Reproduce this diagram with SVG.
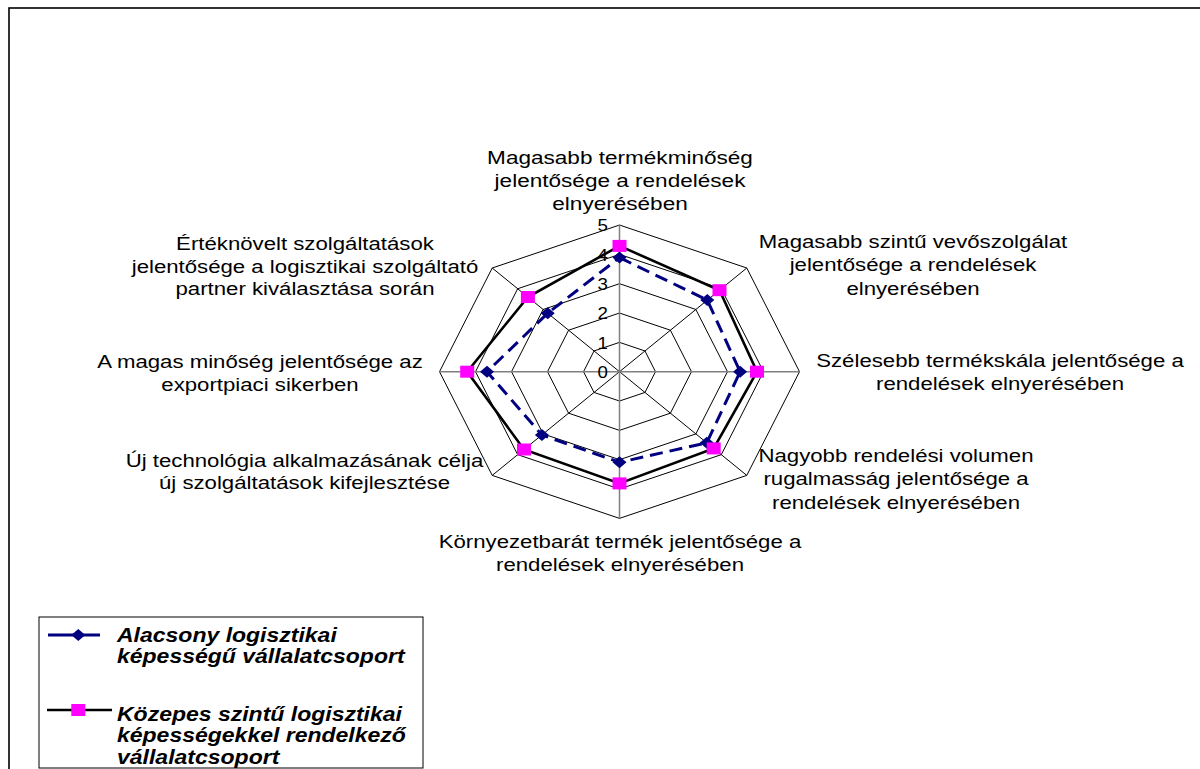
<svg xmlns="http://www.w3.org/2000/svg" width="1200" height="769" viewBox="0 0 1200 769">
<style>
.lbl{font-family:"Liberation Sans",Arial,sans-serif;font-size:18.5px;fill:#000;text-anchor:middle}
.num{font-family:"Liberation Sans",Arial,sans-serif;font-size:17px;fill:#000;text-anchor:end}
.leg{font-family:"Liberation Sans",Arial,sans-serif;font-size:20px;font-weight:bold;font-style:italic;fill:#000}
.ring{fill:none;stroke:#000;stroke-width:1}
.spoke{stroke:#000;stroke-width:1}
.axis{stroke:#808080;stroke-width:1.5}
.s1{fill:none;stroke:#000080;stroke-width:3;stroke-dasharray:13 7}
.s2{fill:none;stroke:#000;stroke-width:2.6}
.dia{fill:#000080}
.sq{fill:#ff00ff}
</style>
<defs>
<polygon id="dm" class="dia" points="0,-6 7,0 0,6 -7,0"/>
<rect id="sm" class="sq" x="-7" y="-6" width="14" height="12"/>
</defs>
<rect x="0" y="0" width="1200" height="769" fill="#fff"/>
<rect x="9" y="8" width="1220" height="800" fill="none" stroke="#000" stroke-width="1.6"/>

<g id="grid" transform="translate(619.5,371.7)">
<polygon class="ring" points="0,-29.33 25.46,-20.74 36,0 25.46,20.74 0,29.33 -25.46,20.74 -36,0 -25.46,-20.74"/>
<polygon class="ring" points="0,-58.67 50.91,-41.48 72,0 50.91,41.48 0,58.67 -50.91,41.48 -72,0 -50.91,-41.48"/>
<polygon class="ring" points="0,-88 76.37,-62.22 108,0 76.37,62.22 0,88 -76.37,62.22 -108,0 -76.37,-62.22"/>
<polygon class="ring" points="0,-117.33 101.82,-82.96 144,0 101.82,82.96 0,117.33 -101.82,82.96 -144,0 -101.82,-82.96"/>
<polygon class="ring" points="0,-146.67 127.28,-103.7 180,0 127.28,103.7 0,146.67 -127.28,103.7 -180,0 -127.28,-103.7"/>
<line class="spoke" x1="0" y1="0" x2="127.28" y2="-103.7"/>
<line class="spoke" x1="0" y1="0" x2="127.28" y2="103.7"/>
<line class="spoke" x1="0" y1="0" x2="-127.28" y2="103.7"/>
<line class="spoke" x1="0" y1="0" x2="-127.28" y2="-103.7"/>
<line class="axis" x1="0" y1="-146.67" x2="0" y2="146.67"/>
<line class="axis" x1="-180" y1="0" x2="180" y2="0"/>
</g>

<g id="axis-labels">
<text class="num" transform="translate(608,378) scale(1.1,1)">0</text>
<text class="num" transform="translate(608,348.5) scale(1.1,1)">1</text>
<text class="num" transform="translate(608,319.2) scale(1.1,1)">2</text>
<text class="num" transform="translate(608,289.9) scale(1.1,1)">3</text>
<text class="num" transform="translate(608,260.5) scale(1.1,1)">4</text>
<text class="num" transform="translate(608,231.2) scale(1.1,1)">5</text>
</g>

<g id="connectors" transform="translate(619.5,371.7)">
<polygon id="series-1" class="s1" points="0,-114.1 87.8,-71.6 120.6,0 87.3,71.1 0,90.6 -77.6,63.3 -132.5,0 -71.8,-58.5"/>
<polygon id="series-2" class="s2" points="0,-125.8 100,-81.5 137.5,0 94.2,76.7 0,111.7 -95.5,77.8 -152.3,0 -91.6,-74.7"/>
</g>

<g id="markers-1" transform="translate(619.5,371.7)">
<use href="#dm" x="0" y="-114.1"/>
<use href="#dm" x="87.8" y="-71.6"/>
<use href="#dm" x="120.6" y="0"/>
<use href="#dm" x="87.3" y="71.1"/>
<use href="#dm" x="0" y="90.6"/>
<use href="#dm" x="-77.6" y="63.3"/>
<use href="#dm" x="-132.5" y="0"/>
<use href="#dm" x="-71.8" y="-58.5"/>
</g>
<g id="markers-2" transform="translate(619.5,371.7)">
<use href="#sm" x="0" y="-125.8"/>
<use href="#sm" x="100" y="-81.5"/>
<use href="#sm" x="137.5" y="0"/>
<use href="#sm" x="94.2" y="76.7"/>
<use href="#sm" x="0" y="111.7"/>
<use href="#sm" x="-95.5" y="77.8"/>
<use href="#sm" x="-152.3" y="0"/>
<use href="#sm" x="-91.6" y="-74.7"/>
</g>

<g id="cat-1"><text class="lbl" transform="translate(620,163.5) scale(1.22,1)"><tspan x="0">Magasabb termékminőség</tspan><tspan x="0" dy="23.3">jelentősége a rendelések</tspan><tspan x="0" dy="23.3">elnyerésében</tspan></text></g>
<g id="cat-2"><text class="lbl" transform="translate(913,248) scale(1.2,1)"><tspan x="0">Magasabb szintű vevőszolgálat</tspan><tspan x="0" dy="23.5">jelentősége a rendelések</tspan><tspan x="0" dy="23.5">elnyerésében</tspan></text></g>
<g id="cat-3"><text class="lbl" transform="translate(1000,367) scale(1.2,1)"><tspan x="0">Szélesebb termékskála jelentősége a</tspan><tspan x="0" dy="23.3">rendelések elnyerésében</tspan></text></g>
<g id="cat-4"><text class="lbl" transform="translate(896,461.5) scale(1.2,1)"><tspan x="0">Nagyobb rendelési volumen</tspan><tspan x="0" dy="24">rugalmasság jelentősége a</tspan><tspan x="0" dy="24">rendelések elnyerésében</tspan></text></g>
<g id="cat-5"><text class="lbl" transform="translate(620,547.5) scale(1.2,1)"><tspan x="0">Környezetbarát termék jelentősége a</tspan><tspan x="0" dy="23.5">rendelések elnyerésében</tspan></text></g>
<g id="cat-6"><text class="lbl" transform="translate(304.5,466.5) scale(1.2,1)"><tspan x="0">Új technológia alkalmazásának célja</tspan><tspan x="0" dy="23">új szolgáltatások kifejlesztése</tspan></text></g>
<g id="cat-7"><text class="lbl" transform="translate(260,368) scale(1.2,1)"><tspan x="0">A magas minőség jelentősége az</tspan><tspan x="0" dy="23">exportpiaci sikerben</tspan></text></g>
<g id="cat-8"><text class="lbl" transform="translate(305,250) scale(1.2,1)"><tspan x="0">Értéknövelt szolgáltatások</tspan><tspan x="0" dy="22.7">jelentősége a logisztikai szolgáltató</tspan><tspan x="0" dy="22.7">partner kiválasztása során</tspan></text></g>

<g id="legend">
<rect x="39" y="617" width="384" height="151" fill="#fff" stroke="#000" stroke-width="1"/>
<line x1="48" y1="635" x2="100" y2="635" stroke="#000080" stroke-width="3"/>
<use href="#dm" x="78.3" y="635"/>
<text class="leg" transform="translate(117,641.7) scale(1.15,1)"><tspan x="0">Alacsony logisztikai</tspan><tspan x="0" dy="21.6">képességű vállalatcsoport</tspan></text>
<line x1="47" y1="710" x2="112" y2="710" stroke="#000" stroke-width="2.6"/>
<use href="#sm" x="78.3" y="710"/>
<text class="leg" transform="translate(117,720.5) scale(1.15,1)"><tspan x="0">Közepes szintű logisztikai</tspan><tspan x="0" dy="21.6">képességekkel rendelkező</tspan><tspan x="0" dy="21.6">vállalatcsoport</tspan></text>
</g>
</svg>
